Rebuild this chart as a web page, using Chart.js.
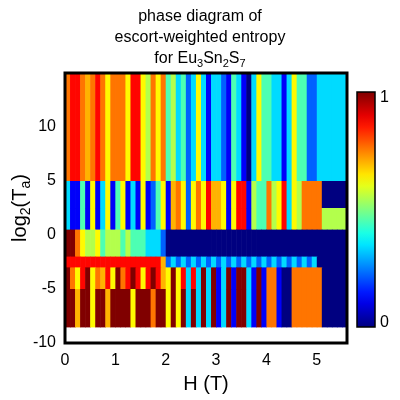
<!DOCTYPE html>
<html><head><meta charset="utf-8">
<script src="https://cdn.jsdelivr.net/npm/chart.js@4"></script>
<style>body{margin:0;background:#fff}#w{width:400px;height:400px}</style>
</head><body><div id="w"><canvas id="c"></canvas></div>
<script>
// H values (T), column left edges, step 0.1
const hValues = Array.from({length:56},(_,i)=>+(i*0.1).toFixed(1));
const hStep = 0.1;
// log2(Ta) bands: [low, high]
const bandEdges = [[5,15],[2.5,5],[0.5,2.5],[-2,0.5],[-3,-2],[-5,-3],[-8.5,-5]];
// entropy level codes per column per band
const bandValues = [
 "89987898688869965868"+"4534236313"+"3214310364"+"4331364422"+"333333",
 "31141613614613161246"+"1786268697"+"7616991544"+"8569365888"+"800000",
 "31141613614613161246"+"1786268697"+"7616991544"+"8569365888"+"855555",
 "aa865564555454443332"+"000000000000000000000000000000000000",
 "99999999999999999997"+"232323232323232323232323232323"+"000000",
 "a869a68796a89a969a97"+"6a69393"+"a3a13a1aa31a18810088888"+"800000",
 "aa7aa6aa7aaaa6aaa8aa"+"6a6a3a3"+"a3a13a1aa31a18810088888"+"800000"
];
// code -> entropy value
const levels = {"0":0,"1":0.12,"2":0.22,"3":0.34,"4":0.45,"5":0.55,"6":0.63,"7":0.7,"8":0.76,"9":0.87,"a":1};
const xTicks=[0,1,2,3,4,5], yTicks=[-10,-5,0,5,10];

function jet(t){const c=x=>Math.round(255*Math.max(0,Math.min(1,x)));
 return `rgb(${c(1.5-Math.abs(4*t-3))},${c(1.5-Math.abs(4*t-2))},${c(1.5-Math.abs(4*t-1))})`;}

const F='"Liberation Sans", Arial, sans-serif';
const heat={id:'heat',beforeDatasetsDraw(ch){
 const {ctx,scales:{x,y}}=ch;ctx.save();
 bandEdges.forEach((b,bi)=>{const s=bandValues[bi];
  hValues.forEach((h,i)=>{const v=levels[s[i]];
   const x0=x.getPixelForValue(h),x1=x.getPixelForValue(h+hStep);
   const y0=y.getPixelForValue(b[1]),y1=y.getPixelForValue(b[0]);
   ctx.fillStyle=jet(v);ctx.fillRect(x0,y0,x1-x0+0.6,y1-y0+0.6);});});
 ctx.restore();},
 afterDraw(ch){const {ctx,chartArea:a}=ch;ctx.save();
  ctx.strokeStyle='#000';ctx.lineWidth=3;ctx.strokeRect(a.left,a.top,a.right-a.left,a.bottom-a.top);
  const cx=357,cw=18,ct=92,cb=327;const g=ctx.createLinearGradient(0,cb,0,ct);
  for(let k=0;k<=20;k++)g.addColorStop(k/20,jet(k/20));
  ctx.fillStyle=g;ctx.fillRect(cx,ct,cw,cb-ct);ctx.lineWidth=1.5;ctx.strokeRect(cx,ct,cw,cb-ct);
  ctx.fillStyle='#000';ctx.font='16px '+F;ctx.textBaseline='middle';ctx.textAlign='left';
  ctx.fillText('1',380,ct+6);ctx.fillText('0',380,cb-4);
  ctx.textAlign='center';ctx.textBaseline='alphabetic';ctx.font='16px '+F;
  ctx.fillText('phase diagram of',200,21);ctx.fillText('escort-weighted entropy',200,42);
  const parts=[['for Eu',0],['3',1],['Sn',0],['2',1],['S',0],['7',1]];
  let tw=0;parts.forEach(p=>{ctx.font=(p[1]?'11px ':'16px ')+F;tw+=ctx.measureText(p[0]).width;});
  let px=200-tw/2;ctx.textAlign='left';
  parts.forEach(p=>{ctx.font=(p[1]?'11px ':'16px ')+F;ctx.fillText(p[0],px,p[1]?67:63);px+=ctx.measureText(p[0]).width;});
  ctx.save();ctx.translate(26,208);ctx.rotate(-Math.PI/2);
  const yp=[['log',0,20],['2',1,14],['(T',0,20],['a',1,14],[')',0,20]];
  tw=0;yp.forEach(p=>{ctx.font=p[2]+'px '+F;tw+=ctx.measureText(p[0]).width;});
  px=-tw/2;yp.forEach(p=>{ctx.font=p[2]+'px '+F;ctx.fillText(p[0],px,p[1]?4:0);px+=ctx.measureText(p[0]).width;});
  ctx.restore();
  ctx.font='20px '+F;ctx.textAlign='center';ctx.fillText('H (T)',206,390);
  ctx.restore();}};

new Chart(document.getElementById('c'),{type:'scatter',data:{datasets:[{data:[]}]},
 plugins:[heat],
 options:{responsive:true,maintainAspectRatio:false,animation:false,
  layout:{padding:{left:25,top:73,right:53,bottom:25}},
  plugins:{legend:{display:false},tooltip:{enabled:false}},
  scales:{
   x:{type:'linear',min:0,max:5.6,afterFit:s=>{s.height=32;},
    afterBuildTicks:s=>{s.ticks=xTicks.map(v=>({value:v}));},
    grid:{display:false,drawTicks:true,tickLength:6,tickColor:'#000'},border:{display:false},
    ticks:{color:'#000',font:{size:16,family:F},maxRotation:0,padding:2}},
   y:{type:'linear',min:-10,max:15,afterFit:s=>{s.width=40;},
    afterBuildTicks:s=>{s.ticks=yTicks.map(v=>({value:v}));},
    grid:{display:false,drawTicks:true,tickLength:6,tickColor:'#000'},border:{display:false},
    ticks:{color:'#000',font:{size:16,family:F},padding:3}}
  }}});
</script></body></html>
